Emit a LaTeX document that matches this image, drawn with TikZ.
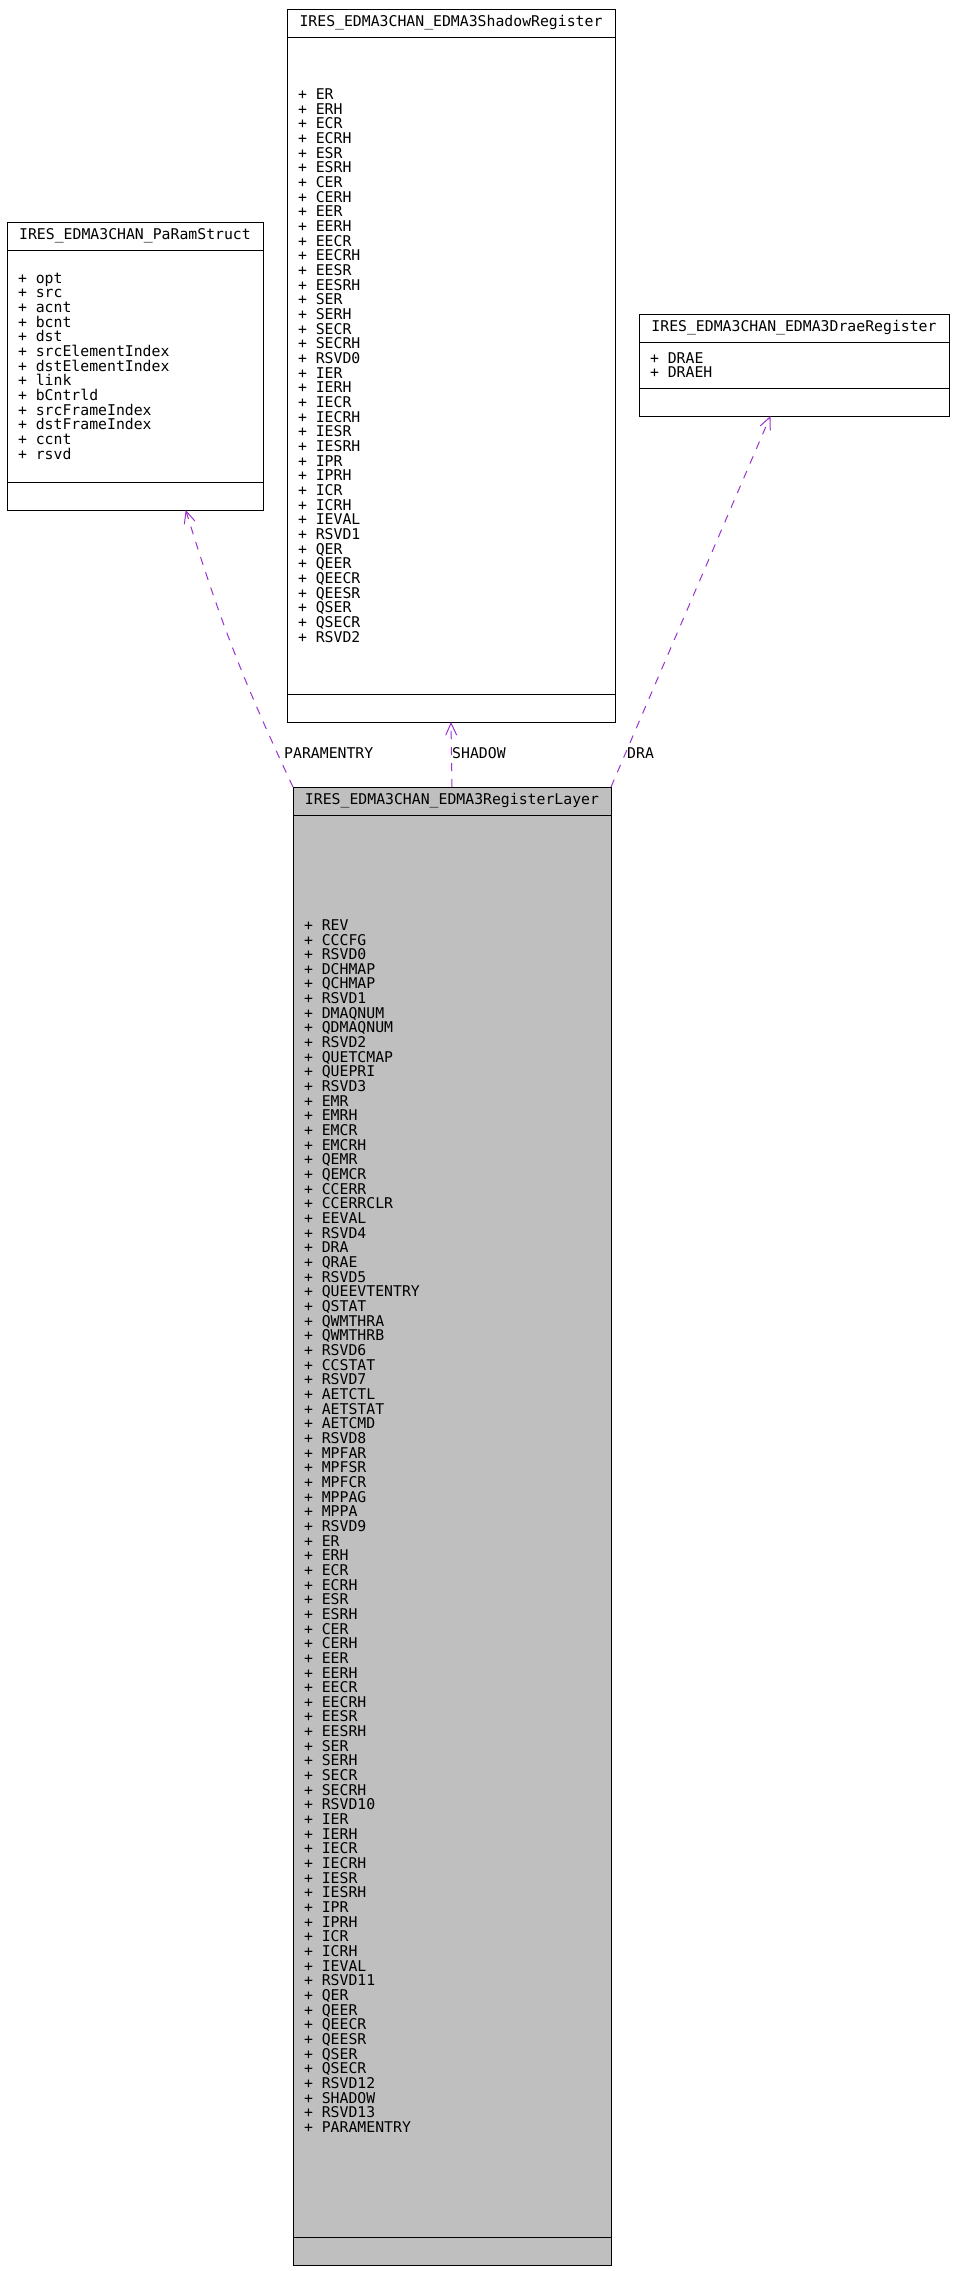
\documentclass[tikz,border=0pt]{standalone}
\usepackage{fontspec}
\setmonofont{DejaVu Sans Mono}
\usepackage{tikz}
\usetikzlibrary{positioning,arrows.meta,calc}
\definecolor{usagepurple}{RGB}{154,50,205}
\definecolor{layergrey}{RGB}{191,191,191}
\newcommand{\umlfont}{\fontsize{14.8pt}{14.66pt}\selectfont\ttfamily}
\newcommand{\pl}{+\hspace{0.602em}}

\begin{document}
\begin{tikzpicture}[x=1pt, y=-1pt,
  clshead/.style={draw, line width=1pt, outer sep=0pt, inner sep=0pt, minimum width=#1, minimum height=28pt, font=\umlfont},
  clsbody/.style={draw, line width=1pt, outer sep=0pt, inner xsep=11pt, inner ysep=0pt, align=left, font=\umlfont},
  clsmeth/.style={draw, line width=1pt, outer sep=0pt, inner sep=0pt, minimum width=#1, minimum height=28pt},
  usage/.style={draw=usagepurple, line width=1pt, dash pattern=on 8pt off 8pt, -{Straight Barb[length=12pt, width=11pt]}},
  edgelbl/.style={font=\umlfont, inner sep=0pt, anchor=west}]
\useasboundingbox (0,0) rectangle (956,2271);

% shadow register
\node[clshead=328pt, anchor=north west] (shead) at (287,9) {IRES\_EDMA3CHAN\_EDMA3ShadowRegister};
\node[clsbody, text width=306pt, minimum height=657pt, below=0pt of shead] (sbody) {%
\pl ER\\\pl ERH\\\pl ECR\\\pl ECRH\\\pl ESR\\\pl ESRH\\\pl CER\\\pl CERH\\\pl EER\\\pl EERH\\%
\pl EECR\\\pl EECRH\\\pl EESR\\\pl EESRH\\\pl SER\\\pl SERH\\\pl SECR\\\pl SECRH\\\pl RSVD0\\%
\pl IER\\\pl IERH\\\pl IECR\\\pl IECRH\\\pl IESR\\\pl IESRH\\\pl IPR\\\pl IPRH\\\pl ICR\\\pl ICRH\\%
\pl IEVAL\\\pl RSVD1\\\pl QER\\\pl QEER\\\pl QEECR\\\pl QEESR\\\pl QSER\\\pl QSECR\\\pl RSVD2};
\node[clsmeth=328pt, below=0pt of sbody] (smeth) {};

% param struct
\node[clshead=256pt, anchor=north west] (phead) at (7,222) {IRES\_EDMA3CHAN\_PaRamStruct};
\node[clsbody, text width=234pt, minimum height=232pt, below=0pt of phead] (pbody) {%
\pl opt\\\pl src\\\pl acnt\\\pl bcnt\\\pl dst\\\pl srcElementIndex\\\pl dstElementIndex\\%
\pl link\\\pl bCntrld\\\pl srcFrameIndex\\\pl dstFrameIndex\\\pl ccnt\\\pl rsvd};
\node[clsmeth=256pt, below=0pt of pbody] (pmeth) {};

% drae register
\node[clshead=310pt, anchor=north west] (dhead) at (639,314) {IRES\_EDMA3CHAN\_EDMA3DraeRegister};
\node[clsbody, text width=288pt, minimum height=46pt, below=0pt of dhead] (dbody) {\pl DRAE\\\pl DRAEH};
\node[clsmeth=310pt, below=0pt of dbody] (dmeth) {};

% register layer
\node[clshead=318pt, fill=layergrey, anchor=north west] (rhead) at (293,787) {IRES\_EDMA3CHAN\_EDMA3RegisterLayer};
\node[clsbody, fill=layergrey, text width=296pt, minimum height=1422pt, below=0pt of rhead] (rbody) {%
\pl REV\\\pl CCCFG\\\pl RSVD0\\\pl DCHMAP\\\pl QCHMAP\\\pl RSVD1\\\pl DMAQNUM\\\pl QDMAQNUM\\%
\pl RSVD2\\\pl QUETCMAP\\\pl QUEPRI\\\pl RSVD3\\\pl EMR\\\pl EMRH\\\pl EMCR\\\pl EMCRH\\\pl QEMR\\%
\pl QEMCR\\\pl CCERR\\\pl CCERRCLR\\\pl EEVAL\\\pl RSVD4\\\pl DRA\\\pl QRAE\\\pl RSVD5\\%
\pl QUEEVTENTRY\\\pl QSTAT\\\pl QWMTHRA\\\pl QWMTHRB\\\pl RSVD6\\\pl CCSTAT\\\pl RSVD7\\%
\pl AETCTL\\\pl AETSTAT\\\pl AETCMD\\\pl RSVD8\\\pl MPFAR\\\pl MPFSR\\\pl MPFCR\\\pl MPPAG\\%
\pl MPPA\\\pl RSVD9\\\pl ER\\\pl ERH\\\pl ECR\\\pl ECRH\\\pl ESR\\\pl ESRH\\\pl CER\\\pl CERH\\%
\pl EER\\\pl EERH\\\pl EECR\\\pl EECRH\\\pl EESR\\\pl EESRH\\\pl SER\\\pl SERH\\\pl SECR\\%
\pl SECRH\\\pl RSVD10\\\pl IER\\\pl IERH\\\pl IECR\\\pl IECRH\\\pl IESR\\\pl IESRH\\\pl IPR\\%
\pl IPRH\\\pl ICR\\\pl ICRH\\\pl IEVAL\\\pl RSVD11\\\pl QER\\\pl QEER\\\pl QEECR\\\pl QEESR\\%
\pl QSER\\\pl QSECR\\\pl RSVD12\\\pl SHADOW\\\pl RSVD13\\\pl PARAMENTRY};
\node[clsmeth=318pt, fill=layergrey, below=0pt of rbody] (rmeth) {};

% usage links
\draw[usage] (rhead.north west) to[bend left=4] ($(pmeth.south west)!0.698!(pmeth.south east)$);
\draw[usage] (rhead.north) -- (smeth.south);
\draw[usage] (rhead.north east) -- ($(dmeth.south west)!0.424!(dmeth.south east)$);
\node[edgelbl] (lparam) at (284,753) {PARAMENTRY};
\node[edgelbl] (lshadow) at (452,753) {SHADOW};
\node[edgelbl] (ldra) at (627,753) {DRA};
\end{tikzpicture}
\end{document}
